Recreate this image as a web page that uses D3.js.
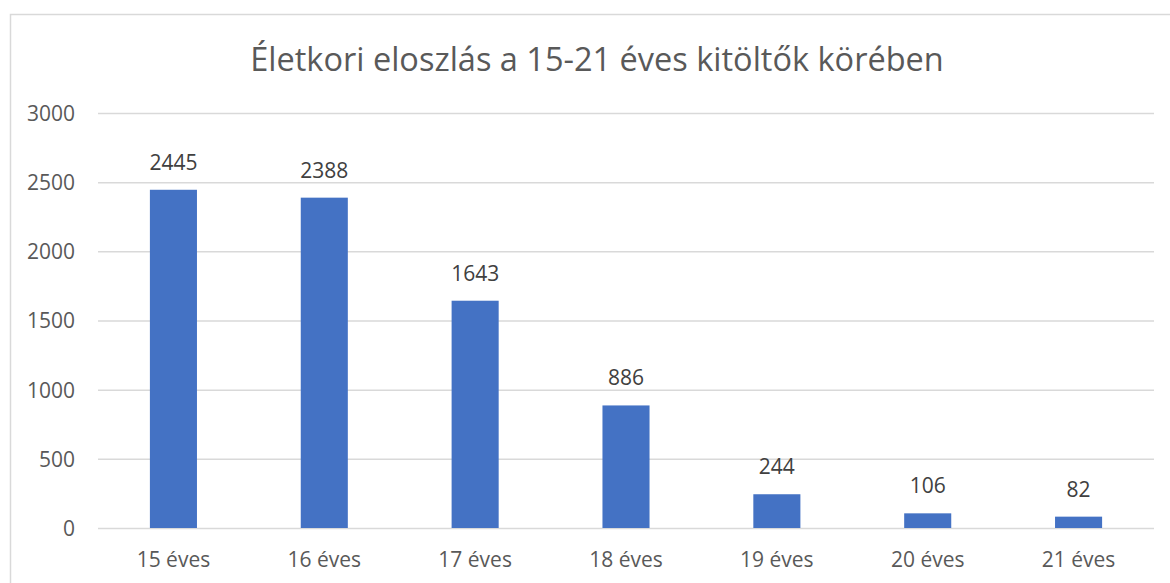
<!DOCTYPE html>
<html><head><meta charset="utf-8">
<script src="https://cdn.jsdelivr.net/npm/d3@7"></script>
<style>body{margin:0;background:#fff}svg{display:block}text{font-family:"Open Sans",sans-serif}</style>
</head><body><svg id="c" width="1170" height="583"></svg>
<script>
const categories = ["15 éves","16 éves","17 éves","18 éves","19 éves","20 éves","21 éves"];
const values = [2445,2388,1643,886,244,106,82];
const yTicks = [0,500,1000,1500,2000,2500,3000];
const title = "Életkori eloszlás a 15-21 éves kitöltők körében";

const svg = d3.select("#c");
svg.append("rect").attr("x",10.5).attr("y",14.5).attr("width",1200).attr("height",600)
  .attr("fill","#fff").attr("stroke","#d9d9d9").attr("stroke-width",1.5);

const pL=98, pR=1154, pT=113, pB=528;
const x = d3.scaleBand().domain(categories).range([pL,pR]).paddingInner(0.688).paddingOuter(0.344);
const y = d3.scaleLinear().domain([0,3000]).range([pB,pT]);

svg.append("text").attr("x",597).attr("y",71).attr("text-anchor","middle")
  .attr("font-size",32.5).attr("fill","#595959").text(title);

const yAxis = d3.axisLeft(y).tickValues(yTicks).tickFormat(d3.format("d")).tickSize(-(pR-pL)).tickPadding(23);
const gy = svg.append("g").attr("transform",`translate(${pL},0)`).call(yAxis);
gy.select(".domain").remove();
gy.selectAll(".tick line").attr("stroke","#d9d9d9").attr("stroke-width",1.5);
gy.selectAll(".tick text").attr("font-size",21).attr("fill","#595959").attr("dy","0.35em");

svg.append("g").selectAll("rect").data(values).join("rect")
  .attr("x",(d,i)=>x(categories[i])).attr("width",x.bandwidth())
  .attr("y",d=>y(d)).attr("height",d=>y(0)-y(d)).attr("fill","#4472c4");

svg.append("g").selectAll("text").data(values).join("text")
  .attr("x",(d,i)=>x(categories[i])+x.bandwidth()/2).attr("y",d=>y(d)-20)
  .attr("text-anchor","middle").attr("font-size",21).attr("fill","#404040").text(d=>d);

const xAxis = d3.axisBottom(x).tickSize(0).tickPadding(24);
const gx = svg.append("g").attr("transform",`translate(0,${pB})`).call(xAxis);
gx.select(".domain").remove();
gx.selectAll(".tick text").attr("font-size",21).attr("fill","#595959");
</script></body></html>
